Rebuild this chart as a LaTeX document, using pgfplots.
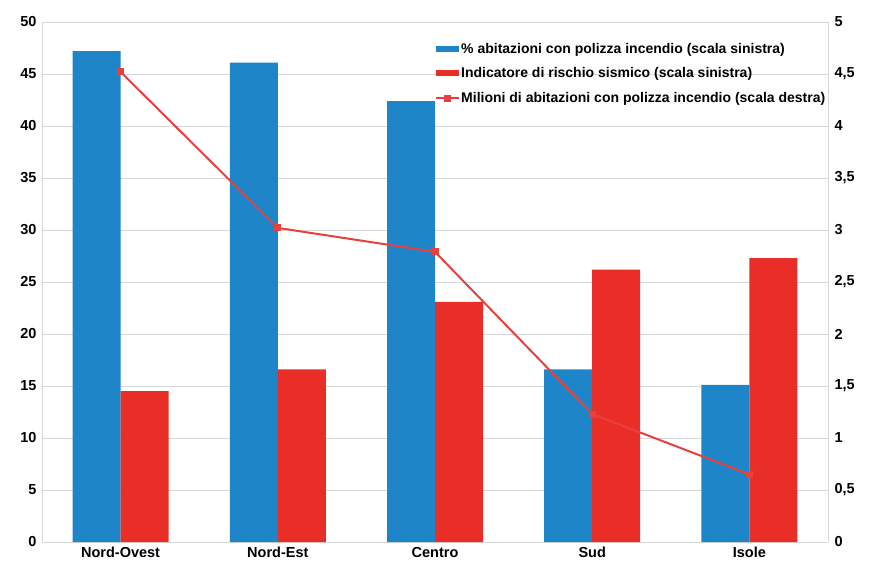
\documentclass[border=0pt]{standalone}
\usepackage{fontspec}
\setmainfont{Liberation Sans}
\usepackage{pgfplots}
\pgfplotsset{compat=1.18}
\definecolor{cblue}{RGB}{30,134,200}
\definecolor{cred}{RGB}{232,46,38}
\definecolor{cline}{RGB}{232,64,62}
\definecolor{cgrid}{RGB}{215,215,215}
\pgfplotsset{
  barleg/.style={legend image code/.code={\fill[##1,draw=none] (0pt,-3pt) rectangle (23pt,3pt);}},
  lineleg/.style={legend image code/.code={\draw[##1,mark repeat=2,mark phase=2] plot coordinates {(0pt,0pt) (11.5pt,0pt) (23pt,0pt)};}},
}
\begin{document}
\begin{tikzpicture}
\useasboundingbox (-42pt,-26pt) rectangle (828pt,542pt);
\begin{axis}[
  scale only axis, width=786pt, height=520pt,
  xmin=-0.5, xmax=4.5, ymin=0, ymax=50,
  xtick={0,1,2,3,4}, xticklabels={Nord-Ovest,Nord-Est,Centro,Sud,Isole},
  ytick={0,5,...,50},
  /pgf/number format/assume math mode=true,
  ymajorgrids, grid style={cgrid, line width=0.9pt},
  axis y line*=left, axis x line*=bottom,
  axis line style={cgrid, line width=0.9pt, -},
  major tick length=0pt,
  tick label style={font=\bfseries\fontsize{14.5}{16}\selectfont},
  yticklabel style={xshift=-2pt},
  xticklabel style={yshift=-1pt, text height=10.5pt, text depth=3pt},
  ybar, bar width=48pt,
]
\addplot[fill=cblue, draw=none, bar shift=-24pt] coordinates {(0,47.2) (1,46.1) (2,42.4) (3,16.6) (4,15.1)};
\addplot[fill=cred, draw=none, bar shift=24pt] coordinates {(0,14.5) (1,16.6) (2,23.1) (3,26.2) (4,27.3)};
\end{axis}
\begin{axis}[
  scale only axis, width=786pt, height=520pt,
  xmin=-0.5, xmax=4.5, ymin=0, ymax=5,
  axis x line=none, axis y line*=right,
  axis line style={cgrid, line width=0.9pt, -},
  major tick length=0pt,
  ytick={0,0.5,...,5},
  yticklabels={0,{0,5},1,{1,5},2,{2,5},3,{3,5},4,{4,5},5},
  tick label style={font=\bfseries\fontsize{14.5}{16}\selectfont},
  yticklabel style={xshift=3pt},
  legend style={at={(rel axis cs:0.5,0.962)}, anchor=north west, draw=none, fill=none,
    font=\bfseries\fontsize{14}{15}\selectfont, row sep=11pt, inner sep=0pt,
    nodes={inner sep=1pt}},
  legend cell align=left,
]
\addlegendimage{barleg, fill=cblue}
\addlegendentry{\% abitazioni con polizza incendio (scala sinistra)}
\addlegendimage{barleg, fill=cred}
\addlegendentry{Indicatore di rischio sismico (scala sinistra)}
\addplot[lineleg, cline, line width=2pt, mark=square*, mark size=2.5pt, mark options={solid}] coordinates {(0,4.52) (1,3.02) (2,2.79) (3,1.23) (4,0.65)};
\addlegendentry{Milioni di abitazioni con polizza incendio (scala destra)}
\end{axis}
\end{tikzpicture}
\end{document}
